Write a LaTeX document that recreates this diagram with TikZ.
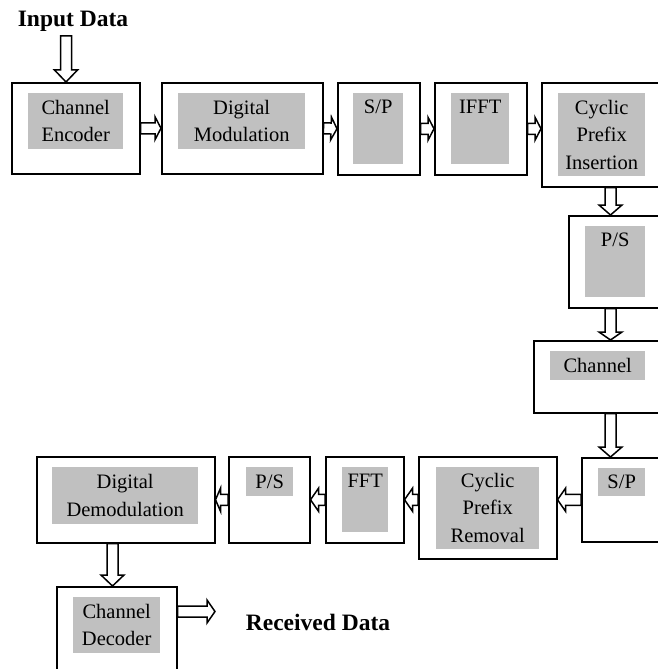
\documentclass[tikz,border=0pt]{standalone}
\usepackage{fontspec}
\setmainfont{Liberation Serif}
\usetikzlibrary{calc}
\definecolor{lblgray}{HTML}{C0C0C0}
\newcommand{\blockarrow}[3][8]{%
  \path ($(#3)!#1pt!(#2)$) coordinate (hb);
  \draw[barrow] ($(#2)!5.5pt!90:(#3)$) -- ($(hb)!5.5pt!90:(#3)$) -- ($(hb)!11.5pt!90:(#3)$) -- (#3) -- ($(hb)!11.5pt!-90:(#3)$) -- ($(hb)!5.5pt!-90:(#3)$) -- ($(#2)!5.5pt!-90:(#3)$) -- cycle;}

\begin{document}
\begin{tikzpicture}[x=1pt, y=-1pt,
  blk/.style={draw, line width=1.5pt, fill=white, anchor=north west, inner sep=0pt},
  lbl/.style={fill=lblgray, anchor=north west, inner xsep=2pt, inner ysep=6pt, align=center, font=\fontsize{20.5}{27.5}\selectfont},
  toplbl/.style={lbl, text height=14pt, text depth=#1},
  barrow/.style={line width=1.5pt, fill=white},
  datatext/.style={font=\fontsize{23.5}{28}\selectfont\bfseries, anchor=base}]
\useasboundingbox (0,0) rectangle (658,669);
\clip (0,0) rectangle (658,669);

\node[blk, minimum width=128, minimum height=91] (enc) at (11,82) {};
\node[blk, minimum width=161, minimum height=91] (dmod) at (161,82) {};
\node[blk, minimum width=82, minimum height=92] (sp1) at (337,82) {};
\node[blk, minimum width=92, minimum height=92] (ifft) at (434,82) {};
\node[blk, minimum width=160, minimum height=104] (cpi) at (541,82) {};
\node[blk, minimum width=140, minimum height=92] (ps1) at (568,215) {};
\node[blk, minimum width=170, minimum height=72] (chan) at (533,340) {};
\node[blk, minimum width=120, minimum height=84] (sp2) at (581,457) {};
\node[blk, minimum width=138, minimum height=102] (cpr) at (418,456) {};
\node[blk, minimum width=78, minimum height=86] (fft) at (325,456) {};
\node[blk, minimum width=81, minimum height=86] (ps2) at (228,456) {};
\node[blk, minimum width=178, minimum height=86] (ddem) at (36,456) {};
\node[blk, minimum width=120, minimum height=120] (dec) at (56,586) {};

\node[lbl, minimum width=95, minimum height=56] (enclbl) at (28,93) {Channel\\Encoder};
\node[lbl, minimum width=127, minimum height=56] (dmodlbl) at (178,93) {Digital\\Modulation};
\node[toplbl=45pt, minimum width=50] (sp1lbl) at (353,93) {S/P};
\node[toplbl=45pt, minimum width=58] (ifftlbl) at (451,93) {IFFT};
\node[lbl, minimum width=87, minimum height=83] (cpilbl) at (558,93) {Cyclic\\Prefix\\Insertion};
\node[toplbl=45pt, minimum width=60] (ps1lbl) at (585,226) {P/S};
\node[lbl, minimum width=95, minimum height=29] (chanlbl) at (550,351) {Channel};
\node[lbl, minimum width=47, minimum height=28] (sp2lbl) at (598,468) {S/P};
\node[lbl, minimum width=103, minimum height=81] (cprlbl) at (436,467) {Cyclic\\Prefix\\Removal};
\node[toplbl=39pt, minimum width=46] (fftlbl) at (342,467) {FFT};
\node[lbl, minimum width=47, minimum height=29] (ps2lbl) at (246,467) {P/S};
\node[lbl, minimum width=146, minimum height=57] (ddemlbl) at (52,467) {Digital\\Demodulation};
\node[lbl, minimum width=87, minimum height=56] (declbl) at (73,597) {Channel\\Decoder};

\node[datatext] (intext) at (73,27) {Input Data};
\node[datatext] (rxtext) at (318,630) {Received Data};

\coordinate (datain) at (66,36);
\coordinate (c1) at (610.5,200);
\coordinate (c2) at (112.5,564);
\coordinate (dataout) at (215,611.5);
\blockarrow[12]{datain}{datain |- enc.north}
\blockarrow[6]{enc.east}{dmod.west}
\blockarrow[6]{dmod.east}{sp1.west}
\blockarrow[6]{sp1.east}{ifft.west}
\blockarrow[6]{ifft.east}{ifft.east -| cpi.west}
\blockarrow[10]{c1 |- cpi.south}{c1 |- ps1.north}
\blockarrow[8]{c1 |- ps1.south}{c1 |- chan.north}
\blockarrow[10]{c1 |- chan.south}{c1 |- sp2.north}
\blockarrow{sp2.west}{sp2.west -| cpr.east}
\blockarrow{fft.east -| cpr.west}{fft.east}
\blockarrow{fft.west}{ps2.east}
\blockarrow[5]{ps2.west}{ddem.east}
\blockarrow[11]{c2 |- ddem.south}{c2 |- dec.north}
\blockarrow{dec.east |- dataout}{dataout}
\end{tikzpicture}
\end{document}
